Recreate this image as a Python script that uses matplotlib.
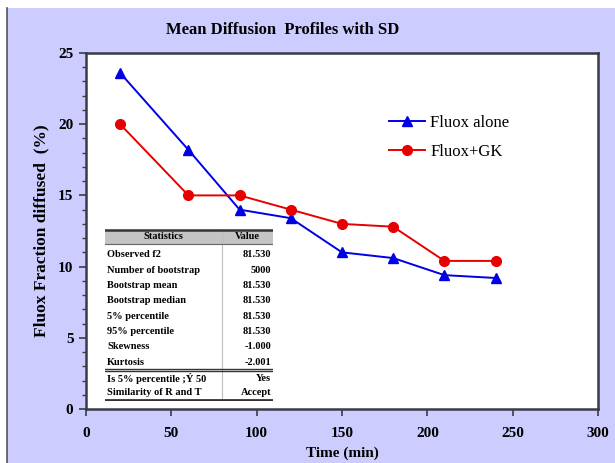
import matplotlib

matplotlib.use("Agg")
import matplotlib.pyplot as plt
from matplotlib.patches import Rectangle
from matplotlib.lines import Line2D
from matplotlib.ticker import MultipleLocator

plt.rcParams["font.family"] = ["Liberation Serif", "DejaVu Serif"]

# data
TIME = [20, 60, 90, 120, 150, 180, 210, 240]
FLUOX_ALONE = [23.6, 18.2, 14.0, 13.4, 11.0, 10.6, 9.4, 9.2]
FLUOX_GK = [20.0, 15.0, 15.0, 14.0, 13.0, 12.8, 10.4, 10.4]

STAT_NAMES = [
    "Observed f2",
    "Number of bootstrap",
    "Bootstrap mean",
    "Bootstrap median",
    "5% percentile",
    "95% percentile",
    "Skewness",
    "Kurtosis",
]
STAT_VALUES = ["81.530", "5000", "81.530", "81.530", "81.530", "81.530", "-1.000", "-2.001"]
DECISION_NAMES = ["Is 5% percentile ;Ý 50", "Similarity of R and T"]
DECISION_VALUES = ["Yes", "Accept"]

LAVENDER = "#CCCCFF"
BLUE = "#0000E6"
RED = "#E60000"
FRAME = "#3a3a48"

W, H = 615, 463
fig = plt.figure(figsize=(W / 100, H / 100), dpi=100, facecolor="white")

# lavender panel with a dark left edge, white strip along the top
fig.add_artist(Rectangle((7 / W, 0), 1 - 7 / W, 1 - 8 / H, transform=fig.transFigure,
                         facecolor=LAVENDER, edgecolor="none", zorder=-10))
fig.add_artist(Line2D([7 / W, 7 / W], [0, 1 - 8 / H], transform=fig.transFigure,
                      color="#555555", lw=1.2, zorder=-9))


def fig_box(x0, y0, x1, y1):
    return [x0 / W, 1 - y1 / H, (x1 - x0) / W, (y1 - y0) / H]


ax = fig.add_axes(fig_box(86, 53, 598, 409))
ax.set_facecolor("white")

ax.plot(TIME, FLUOX_ALONE, color=BLUE, lw=1.4, marker="^", ms=7, label="Fluox alone")
ax.plot(TIME, FLUOX_GK, color=RED, lw=1.4, marker="o", ms=7, label="Fluox+GK")

ax.set_xlim(0, 300)
ax.set_ylim(0, 25)
ax.xaxis.set_major_locator(MultipleLocator(50))
ax.yaxis.set_major_locator(MultipleLocator(5))
ax.yaxis.set_minor_locator(MultipleLocator(1))
ax.tick_params(axis="both", which="major", direction="out", length=5, width=1.2,
               color=FRAME, labelsize=11)
ax.tick_params(axis="x", which="major", pad=8)
ax.tick_params(axis="y", which="major", pad=4)
ax.tick_params(axis="y", which="minor", direction="out", length=3, width=1.0, color=FRAME)
for lab in ax.get_xticklabels() + ax.get_yticklabels():
    lab.set_fontweight("bold")
for sp in ax.spines.values():
    sp.set_color(FRAME)
    sp.set_linewidth(1.8)

ax.set_xlabel("Time (min)", fontsize=11, fontweight="bold", labelpad=5)
ax.set_ylabel("Fluox Fraction diffused  (%)", fontsize=12.5, fontweight="bold", labelpad=6)

fig.text(283 / W, 1 - 30 / H, "Mean Diffusion  Profiles with SD", ha="center", va="center",
         fontsize=12, fontweight="bold")

leg = ax.legend(loc="upper left", bbox_to_anchor=(0.578, 0.845), frameon=False, fontsize=12,
                handlelength=2.2, handletextpad=0.3, labelspacing=0.8, borderaxespad=0)

# statistics table, drawn in its own axes with pixel-like coordinates
tx0, tx1, ty0, ty1 = 105, 273, 229, 401
tab = fig.add_axes(fig_box(tx0, ty0, tx1, ty1))
tab.set_xlim(tx0, tx1)
tab.set_ylim(ty1, ty0)
tab.axis("off")
tab.add_patch(Rectangle((tx0, 230), tx1 - tx0, 14, facecolor="#c4c4c4", edgecolor="none"))
col_split = 222
tab.plot([col_split, col_split], [230, 400], color="#bdbdbd", lw=0.8)
tab.plot([tx0, tx1], [230, 230], color="#333333", lw=1.8)
tab.plot([tx0, tx1], [244, 244], color="#666666", lw=0.8)
tab.plot([tx0, tx1], [369, 369], color="#333333", lw=1.0)
tab.plot([tx0, tx1], [371.5, 371.5], color="#333333", lw=1.0)
tab.plot([tx0, tx1], [400, 400], color="#333333", lw=2.0)

fs = 7.5
tab.text((tx0 + col_split) / 2, 237, "Statistics", ha="center", va="center", fontsize=fs,
         fontweight="bold")
tab.text((col_split + tx1) / 2, 237, "Value", ha="center", va="center", fontsize=fs,
         fontweight="bold")
for i, (name, val) in enumerate(zip(STAT_NAMES, STAT_VALUES)):
    y = 255 + i * 15.3
    tab.text(tx0 + 2, y, name, ha="left", va="center", fontsize=fs, fontweight="bold")
    tab.text(tx1 - 2, y, val, ha="right", va="center", fontsize=fs, fontweight="bold")
for i, (name, val) in enumerate(zip(DECISION_NAMES, DECISION_VALUES)):
    y = 379 + i * 13.8
    tab.text(tx0 + 2, y, name, ha="left", va="center", fontsize=fs, fontweight="bold")
    tab.text(tx1 - 2, y, val, ha="right", va="center", fontsize=fs, fontweight="bold")

fig.savefig("out.png", dpi=100, facecolor=fig.get_facecolor())
